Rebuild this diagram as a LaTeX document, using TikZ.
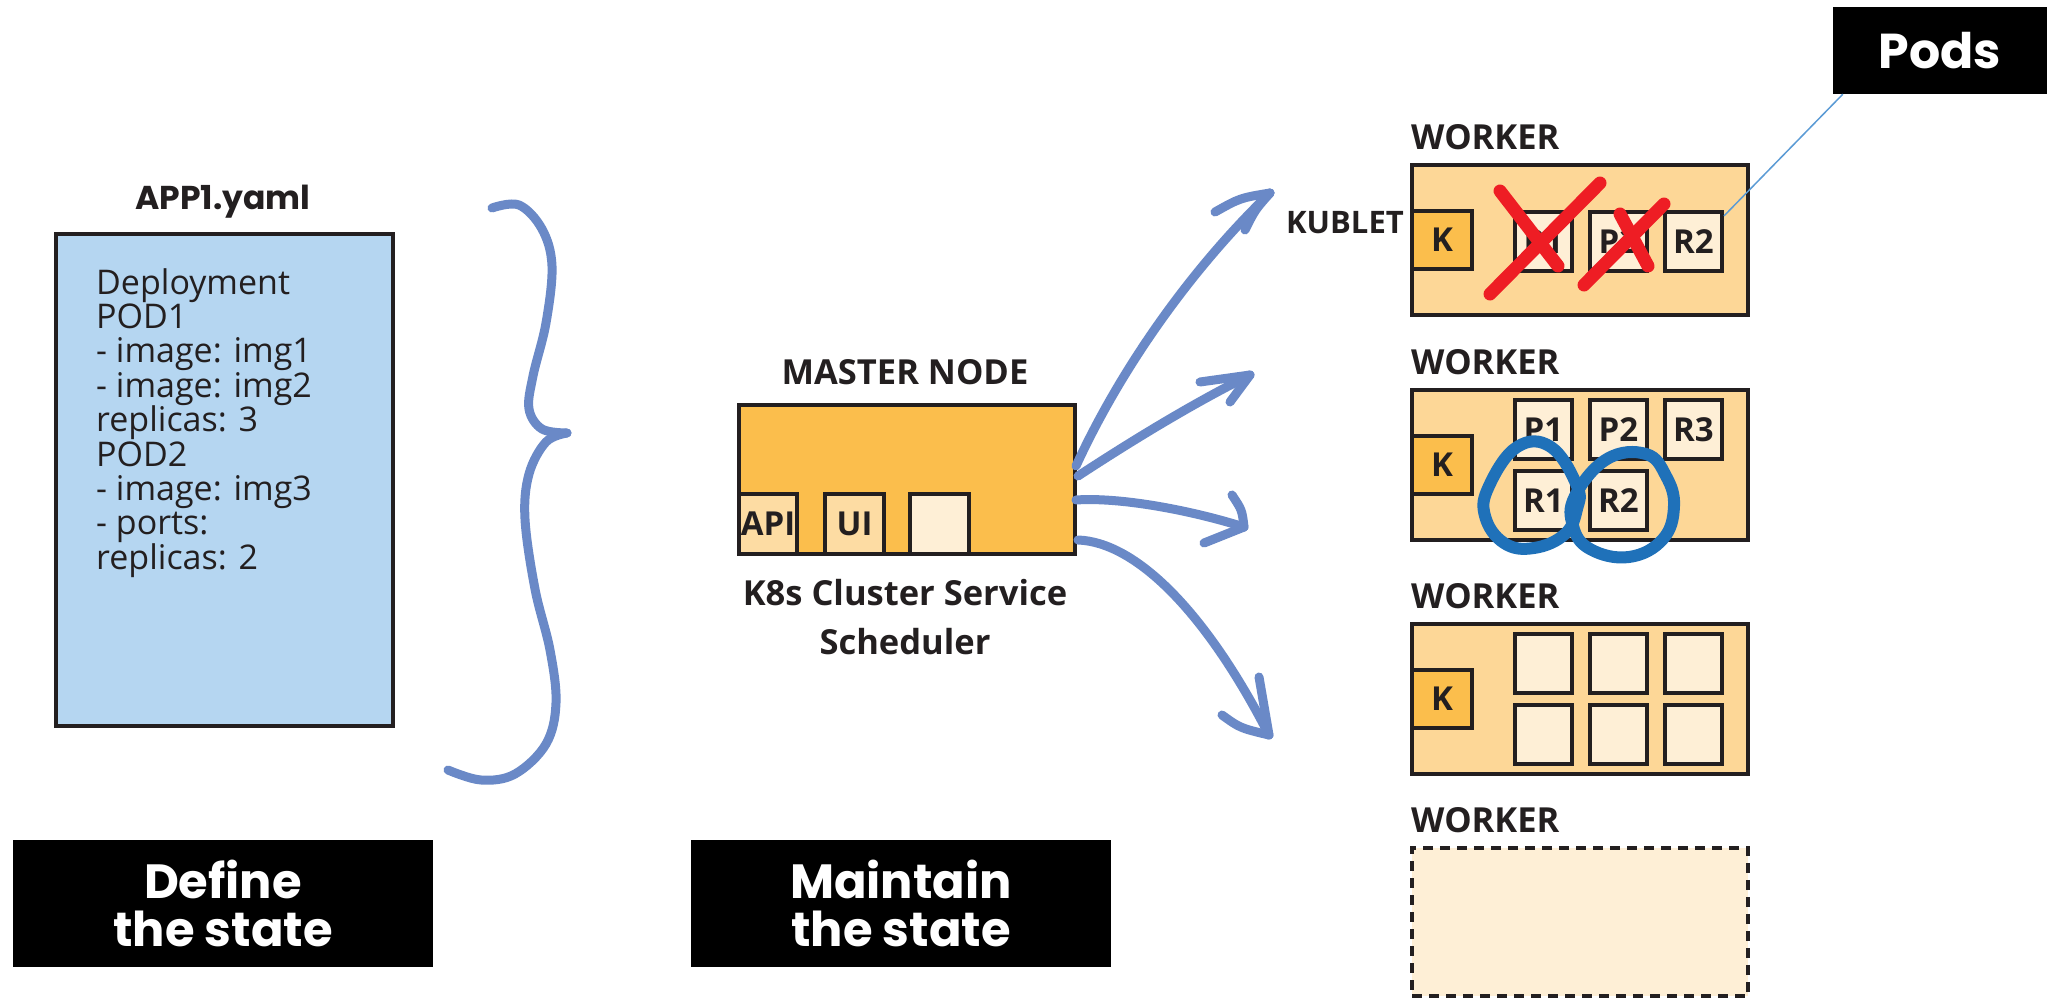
\documentclass[tikz,border=0pt]{standalone}
\usepackage{fontspec}
\setmainfont{Open Sans}
\newfontfamily\popfont{Poppins}
\usetikzlibrary{calc}

\definecolor{inkc}{HTML}{231F20}
\definecolor{yamlc}{HTML}{B5D6F1}
\definecolor{masterc}{HTML}{FBBE4C}
\definecolor{apic}{HTML}{FDDCA3}
\definecolor{workerc}{HTML}{FDD797}
\definecolor{kc}{HTML}{FBBE4C}
\definecolor{podc}{HTML}{FEEFD6}
\definecolor{arrowc}{HTML}{6A89C7}
\definecolor{loopc}{HTML}{1F71B9}
\definecolor{crossc}{HTML}{EE1D24}
\definecolor{leaderc}{HTML}{5B9BD5}

\newcommand\kklab{\bfseries\fontsize{33}{33}\selectfont}
\newcommand\kkttl{\bfseries\fontsize{34.5}{34.5}\selectfont}
\newcommand\kkyaml{\fontsize{34}{34.4}\selectfont}
\newcommand\kkblack{\popfont\bfseries\fontsize{48}{48.5}\selectfont}

\begin{document}
\begin{tikzpicture}[x=1pt,y=-1pt,
  frame/.style={draw=inkc, line width=4pt, inner sep=0pt, anchor=north west},
  workerbox/.style={frame, fill=workerc, minimum width=336pt, minimum height=150pt},
  kbox/.style={frame, fill=kc, minimum width=60pt, minimum height=58pt, font=\kklab, text=inkc},
  podbox/.style={frame, fill=podc, minimum width=57pt, minimum height=59pt, font=\kklab, text=inkc},
  ttl/.style={font=\kkttl, text=inkc, inner sep=0pt},
  blackbox/.style={fill=black, text=white, inner sep=0pt, align=center, font=\kkblack},
  handarrow/.style={draw=arrowc, line width=9pt, line cap=round, line join=round},
  cross/.style={draw=crossc, line width=13pt, line cap=round},
  loop/.style={draw=loopc, line width=12pt, line cap=round, line join=round}]

% canvas
\useasboundingbox[fill=white] (0,0) rectangle (2057,998);

% ---------- desired state (YAML manifest) ----------
\node[ttl, font=\popfont\bfseries\fontsize{33}{33}\selectfont, anchor=base] (apptitle) at (223,209) {APP1.yaml};
\node[draw=inkc, line width=3.5pt, fill=yamlc, inner sep=0pt, anchor=north west,
      minimum width=337pt, minimum height=492pt] (yaml) at (54,232) {};
\foreach \t [count=\i from 0] in {Deployment, POD1, - image: img1, - image: img2,
    replicas: 3, POD2, - image: img3, - ports:, replicas: 2}
  \node[font=\kkyaml, text=inkc, inner sep=0pt, anchor=base west] (yl\i) at (96,294+34.4*\i) {\t};

% curly brace
\draw[handarrow] plot[smooth, tension=0.6] coordinates {
  (492,208) (519,205) (542,229) (552,266) (546,323) (533,376) (529,409) (542,429) (567,433)};
\draw[handarrow] plot[smooth, tension=0.6] coordinates {
  (567,433) (546,442) (529,474) (525,519) (535,589) (550,650) (556,703) (546,744) (515,774) (481,780) (448,770)};

% ---------- master node ----------
\node[ttl, anchor=base] (mtitle) at (905,384) {MASTER NODE};
\node[frame, fill=masterc, minimum width=336pt, minimum height=149pt] (master) at (737,403) {};
\node[frame, fill=apic, minimum width=58pt, minimum height=60pt, font=\kklab, text=inkc] (api) at (737,492) {API};
\node[frame, fill=apic, minimum width=59pt, minimum height=60pt, font=\kklab, text=inkc] (ui) at (823,492) {UI};
\node[frame, fill=podc, minimum width=59pt, minimum height=60pt] (spare) at (908,492) {};
\node[ttl, align=center, font=\bfseries\fontsize{34.5}{49}\selectfont, anchor=center] (sched) at (905,617)
  {K8s Cluster Service\\Scheduler};

% ---------- workers ----------
% worker 1
\node[ttl, anchor=base west] (w1t) at (1411,149) {WORKER};
\node[workerbox] (w1) at (1410,163) {};
\node[kbox] (w1k) at (1410,209) {K};
\node[ttl, anchor=east, font=\bfseries\fontsize{31}{31}\selectfont] (kublet) at (1404,223) {KUBLET};
\node[podbox] (w1p1) at (1513,210) {P1};
\node[podbox] (w1p2) at (1588,210) {P2};
\node[podbox] (w1p3) at (1663,210) {R2};

% worker 2
\node[ttl, anchor=base west] (w2t) at (1411,374) {WORKER};
\node[workerbox] (w2) at (1410,388) {};
\node[kbox] (w2k) at (1410,434) {K};
\node[podbox] (w2p1) at (1513,398) {P1};
\node[podbox] (w2p2) at (1588,398) {P2};
\node[podbox] (w2p3) at (1663,398) {R3};
\node[podbox] (w2r1) at (1513,469) {R1};
\node[podbox] (w2r2) at (1588,469) {R2};

% worker 3
\node[ttl, anchor=base west] (w3t) at (1411,608) {WORKER};
\node[workerbox] (w3) at (1410,622) {};
\node[kbox] (w3k) at (1410,668) {K};
\node[podbox] (w3a) at (1513,632) {};
\node[podbox] (w3b) at (1588,632) {};
\node[podbox] (w3c) at (1663,632) {};
\node[podbox] (w3d) at (1513,703) {};
\node[podbox] (w3e) at (1588,703) {};
\node[podbox] (w3f) at (1663,703) {};

% worker 4 (not yet provisioned)
\node[ttl, anchor=base west] (w4t) at (1411,832) {WORKER};
\node[frame, fill=podc, dash pattern=on 10pt off 7pt, minimum width=336pt, minimum height=148pt] (w4) at (1410,846) {};

% failed pods
\draw[cross] (1490,294) -- (1600,183);
\draw[cross] (1500,191) -- (1558,266);
\draw[cross] (1584,285) -- (1664,204);
\draw[cross] (1620,214) -- (1648,266);

% rescheduled replicas
\draw[loop] plot[smooth cycle, tension=0.7] coordinates {
  (1577,486) (1551,447) (1517,447) (1489,486) (1485,516) (1504,543) (1534,548) (1565,534) (1577,509)};
\draw[loop] plot[smooth cycle, tension=0.7] coordinates {
  (1575,496) (1607,459) (1646,454) (1666,476) (1674,506) (1663,539) (1629,557) (1590,549) (1573,526)};

% ---------- scheduler arrows ----------
\coordinate (s1) at (1076,466);
\coordinate (s2) at (1078,476);
\coordinate (s3) at (1076,500);
\coordinate (s4) at (1078,540);
\coordinate (t1) at (1270,193);
\coordinate (t2) at (1250,375);
\coordinate (t3) at (1244,527);
\coordinate (t4) at (1269,735);

\draw[handarrow] (s1) .. controls (1120,370) and (1190,270) .. (t1);
\draw[handarrow] (t1) .. controls (1240,198) .. (1215,212);
\draw[handarrow] (t1) .. controls (1255,210) .. (1245,230);

\draw[handarrow] (s2) .. controls (1130,442) and (1190,405) .. (t2);
\draw[handarrow] (t2) .. controls (1225,378) .. (1200,382);
\draw[handarrow] (t2) -- (1230,402);

\draw[handarrow] (s3) .. controls (1120,497) and (1190,510) .. (t3);
\draw[handarrow] (t3) .. controls (1242,510) .. (1232,495);
\draw[handarrow] (t3) -- (1204,543);

\draw[handarrow] (s4) .. controls (1135,542) and (1205,610) .. (t4);
\draw[handarrow] (t4) -- (1259,677);
\draw[handarrow] (t4) .. controls (1240,728) .. (1222,715);

% ---------- captions ----------
\node[blackbox, minimum width=420pt, minimum height=127pt] (define) at (223,903.5) {Define\\the state};
\node[blackbox, minimum width=420pt, minimum height=127pt] (maintain) at (901,903.5) {Maintain\\the state};
\node[blackbox, font=\popfont\bfseries\fontsize{49}{49}\selectfont, minimum width=214pt, minimum height=87pt] (pods) at (1940,50.5) {Pods};
\draw[leaderc, line width=1.5pt] ([xshift=10pt]pods.south west) -- (w1p3.40);

\end{tikzpicture}
\end{document}
